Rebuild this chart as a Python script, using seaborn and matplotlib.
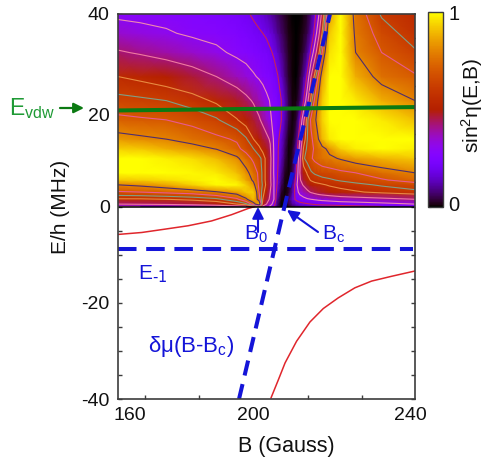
# -*- coding: utf-8 -*-
# sin^2 eta map above the bound state curves

import numpy as np
import pandas as pd
import matplotlib
matplotlib.use("Agg")
import matplotlib.pyplot as plt
from matplotlib.transforms import ScaledTranslation
import seaborn as sns

# --------------------------------
# 1. Data
# --------------------------------
B_grid = [160, 166, 173, 180, 186.5, 192, 194.5, 196.5, 198, 199, 200, 201, 202, 203, 204, 205,
          206, 207, 208, 209, 210, 211, 212, 213, 214, 215, 217, 220, 224, 231, 240]
E_grid = [0, 0.5, 1.5, 3, 4.5, 5.5, 7, 10, 12, 14, 18, 22, 27, 32, 36, 40]

sin2_rows = [
    [.30, .30, .31, .32, .34, .38, .42, .50, .60, .40, .34, .28, .20, .06, 0, 0, .03, .06, .09, .11, .12, .13, .14, .15, .15, .16, .16, .17, .18, .20, .22],
    [.42, .43, .44, .46, .49, .55, .60, .75, .90, .50, .42, .35, .25, .08, 0, .01, .05, .10, .14, .17, .18, .19, .20, .21, .22, .22, .23, .24, .25, .27, .30],
    [.54, .54, .55, .57, .60, .68, .78, .90, .75, .55, .47, .40, .30, .10, .01, .01, .07, .16, .22, .25, .27, .29, .30, .31, .32, .33, .34, .36, .37, .39, .42],
    [.69, .70, .72, .74, .79, .85, .92, .93, .70, .58, .50, .42, .30, .15, .03, .005, .03, .12, .26, .33, .37, .40, .43, .45, .47, .48, .50, .52, .54, .57, .60],
    [.80, .82, .86, .93, .99, .99, .93, .83, .68, .61, .53, .45, .30, .18, .06, .01, .02, .10, .27, .39, .43, .47, .50, .52, .53, .54, .56, .58, .60, .63, .66],
    [.92, .93, .95, .98, 1, .95, .87, .78, .68, .60, .52, .44, .30, .19, .08, .01, .01, .08, .24, .41, .47, .52, .56, .58, .59, .60, .61, .63, .65, .69, .74],
    [1, 1, 1, .99, .97, .91, .83, .75, .68, .60, .52, .44, .29, .20, .10, .02, .005, .05, .20, .42, .50, .56, .61, .63, .64, .65, .66, .68, .70, .75, .80],
    [1, 1, .98, .95, .90, .82, .74, .68, .64, .60, .52, .45, .29, .21, .14, .05, .005, .03, .15, .40, .61, .65, .69, .72, .74, .76, .78, .81, .85, .89, .92],
    [.93, .92, .88, .84, .795, .72, .67, .62, .57, .52, .49, .43, .29, .21, .15, .06, .005, .02, .12, .35, .56, .64, .68, .71, .74, .77, .83, .93, .98, 1, .98],
    [.84, .82, .80, .76, .72, .69, .63, .55, .50, .47, .445, .41, .28, .22, .16, .08, .01, .01, .08, .30, .50, .62, .68, .74, .80, .89, .97, 1, 1, 1, 1],
    [.72, .71, .70, .67, .63, .555, .51, .47, .43, .40, .36, .31, .28, .24, .20, .12, .04, .005, .03, .18, .40, .60, .72, .78, .85, .93, 1, 1, 1, .97, .91],
    [.645, .635, .62, .585, .535, .48, .445, .41, .38, .35, .32, .295, .27, .24, .20, .13, .05, .01, .01, .06, .20, .38, .58, .72, .82, .92, 1, 1, .97, .88, .80],
    [.55, .53, .50, .465, .42, .37, .34, .31, .29, .275, .26, .25, .23, .205, .15, .08, .03, .005, 0, .03, .10, .22, .42, .58, .72, .85, 1, 1, .88, .76, .71],
    [.43, .41, .385, .355, .32, .28, .265, .25, .24, .23, .225, .21, .19, .15, .10, .06, .02, .005, 0, .01, .04, .10, .22, .36, .52, .70, .96, 1, .80, .70, .63],
    [.35, .33, .31, .285, .27, .25, .235, .22, .21, .20, .19, .17, .14, .10, .07, .04, .015, .005, 0, .005, .02, .05, .12, .23, .38, .56, .92, 1, .78, .66, .58],
    [.28, .275, .27, .26, .245, .225, .21, .19, .17, .155, .135, .115, .09, .065, .045, .025, .01, 0, 0, 0, .01, .03, .08, .17, .28, .46, .85, 1, .76, .61, .55],
]

contour_levels = [0.2, 0.3, 0.42, 0.55, 0.62, 0.7, 0.8]

lower_left_B = [160.1, 166.4, 172.7, 178.9, 185.2, 190.6, 195.1, 196.9]
lower_left_E = [-5.8, -5.4, -4.7, -4.0, -3.0, -1.7, -0.4, 0]
lower_right_B = [201.2, 203.2, 205, 208.1, 211.7, 215.3, 219.3, 223.8, 228.3, 233.7, 240]
lower_right_E = [-39.8, -36, -32.5, -28, -24, -21.2, -19, -16.9, -15.5, -14.5, -13.4]

vdw_B = [160, 240]
vdw_E = [19.96, 20.66]
bound_B = [160, 239.4]
bound_E = [-8.9, -8.9]
slope_B = [192.6, 217.1]
slope_E = [-40, 40]

x_label_pos = [163.2, 196.4, 238.7]
x_labels = ["160", "200", "240"]
x_tick_pos = [167.3, 181.8, 196.4, 211.2, 225.7]

# --------------------------------
# 2. Figure
# --------------------------------
sns.set_style("ticks")
plt.rcParams['font.family'] = ['Liberation Sans', 'DejaVu Sans']
plt.rcParams['mathtext.default'] = 'regular'
plt.rcParams['axes.unicode_minus'] = False

W, H = 484, 457
fig = plt.figure(figsize=(W / 100, H / 100), dpi=100)
ax = fig.add_axes([118 / W, 1 - 399 / H, 297 / W, 385 / H])
cax = fig.add_axes([428 / W, 1 - 207 / H, 15 / W, 195 / H])

blue = "#1414d8"
green = "#0b7a12"
label_green = "#1f9a35"
red = "#e0262c"
edge = "#3c3c3c"

sin2 = np.array(sin2_rows)
mesh = ax.pcolormesh(B_grid, E_grid, sin2, shading='gouraud', cmap='gnuplot', vmin=0, vmax=1, zorder=1)
ax.contour(B_grid, E_grid, sin2, levels=contour_levels, linewidths=0.8, zorder=2,
           colors=["#c8205a", "#f08ab0", "#f07aa0", "#e88a40", "#7f9f86", "#e85a90", "#4f2d6e"])

# red curves and model lines
df_left = pd.DataFrame({"B": lower_left_B, "E": lower_left_E})
df_right = pd.DataFrame({"B": lower_right_B, "E": lower_right_E})
sns.lineplot(data=df_left, x="B", y="E", color=red, lw=1.1, ax=ax, zorder=3)
sns.lineplot(data=df_right, x="B", y="E", color=red, lw=1.1, ax=ax, zorder=3)
sns.lineplot(x=bound_B, y=bound_E, color=blue, lw=2.9, linestyle=(0, (4.6, 2.4)), ax=ax, zorder=4)
sns.lineplot(x=slope_B, y=slope_E, color=blue, lw=2.9, linestyle=(0, (3.8, 2.2)), ax=ax, zorder=5)
sns.lineplot(x=vdw_B, y=vdw_E, color=green, lw=2.9, ax=ax, zorder=6)
ax.axhline(0, color="black", lw=1.1, zorder=3)

ax.set_xlim(160, 240)
ax.set_ylim(-40, 40)

# ticks: the x labels do not sit on the tick marks in the original
ax.set_xticks(x_label_pos)
ax.set_xticklabels(x_labels)
ax.set_xticks(x_tick_pos, minor=True)
ax.set_yticks(np.arange(-40, 41, 20))
ax.set_yticks(np.arange(-40, 41, 5), minor=True)
ax.tick_params(axis='x', which='major', length=0, labelsize=14, pad=6, colors="#111111")
ax.tick_params(axis='x', which='minor', direction='in', length=3, width=1, top=True, bottom=True, color=edge)
ax.tick_params(axis='y', which='major', direction='in', length=3, width=1, left=True, right=True, labelsize=14, pad=6, color=edge, labelcolor="#111111")
ax.tick_params(axis='y', which='minor', direction='in', length=3, width=1, left=True, right=True, color=edge)
for s in ax.spines.values():
    s.set_linewidth(1.2)
    s.set_color(edge)
    s.set_zorder(7)

ax.set_xlabel("B (Gauss)", fontsize=15.5, color="#111111")
ax.xaxis.set_label_coords((286 - 118) / 297, -(436 - 399) / 385)
ax.set_ylabel("E/h (MHz)", fontsize=15, color="#111111")
ax.yaxis.set_label_coords((70 - 118) / 297, 0.5)

# colour bar
cbar = fig.colorbar(mesh, cax=cax)
cbar.set_ticks([0, 1])
cbar.set_ticklabels(["0", "1"])
cbar.ax.set_yticks(np.arange(0, 1.01, 0.125), minor=True)
cbar.ax.tick_params(which='both', direction='in', length=2.5, width=0.8, left=True, right=True, labelsize=14.5, pad=4, color=edge, labelcolor="#111111")
cbar.outline.set_edgecolor(edge)
cbar.outline.set_linewidth(1.0)

# two labels sit off their ticks in the original
lbl_20 = ax.get_yticklabels()[3]
lbl_20.set_transform(lbl_20.get_transform() + ScaledTranslation(0, -4 / 100, fig.dpi_scale_trans))
lbl_0 = cbar.ax.get_yticklabels()[0]
lbl_0.set_transform(lbl_0.get_transform() + ScaledTranslation(0, 4 / 100, fig.dpi_scale_trans))

def px(x, y):
    return x / W, 1 - y / H

fig.text(*px(472, 105), "sin$^{2}$η(E,B)", rotation=90, fontsize=15, ha='center', va='center', color="#111111")

# annotations
fig.text(*px(9, 115), "E$_{vdw}$", color=label_green, fontsize=16.5, ha='left', va='baseline')
ax.annotate("", xy=px(84, 108), xytext=px(60, 108), xycoords='figure fraction', textcoords='figure fraction',
            arrowprops=dict(arrowstyle='-|>', color=green, lw=1.6, mutation_scale=15, shrinkA=0, shrinkB=0), zorder=8)
ax.annotate("", xy=px(258, 207), xytext=px(258, 232), xycoords='figure fraction', textcoords='figure fraction',
            arrowprops=dict(arrowstyle='-|>', color=blue, lw=1.5, mutation_scale=17, shrinkA=0, shrinkB=0), zorder=8)
ax.annotate("", xy=px(287, 210), xytext=px(318, 232), xycoords='figure fraction', textcoords='figure fraction',
            arrowprops=dict(arrowstyle='-|>', color=blue, lw=1.5, mutation_scale=17, shrinkA=0, shrinkB=0), zorder=8)
fig.text(*px(244, 240), "B$_{0}$", color=blue, fontsize=15, ha='left', va='baseline')
fig.text(*px(322, 240), "B$_{c}$", color=blue, fontsize=15, ha='left', va='baseline')
fig.text(*px(138, 280), r"E$_{\text{-1}}$", color=blue, fontsize=15, ha='left', va='baseline')
fig.text(*px(148, 352), "δμ(B-B$_{c}$)", color=blue, fontsize=16, ha='left', va='baseline')

fig.savefig("out.png", dpi=100)
